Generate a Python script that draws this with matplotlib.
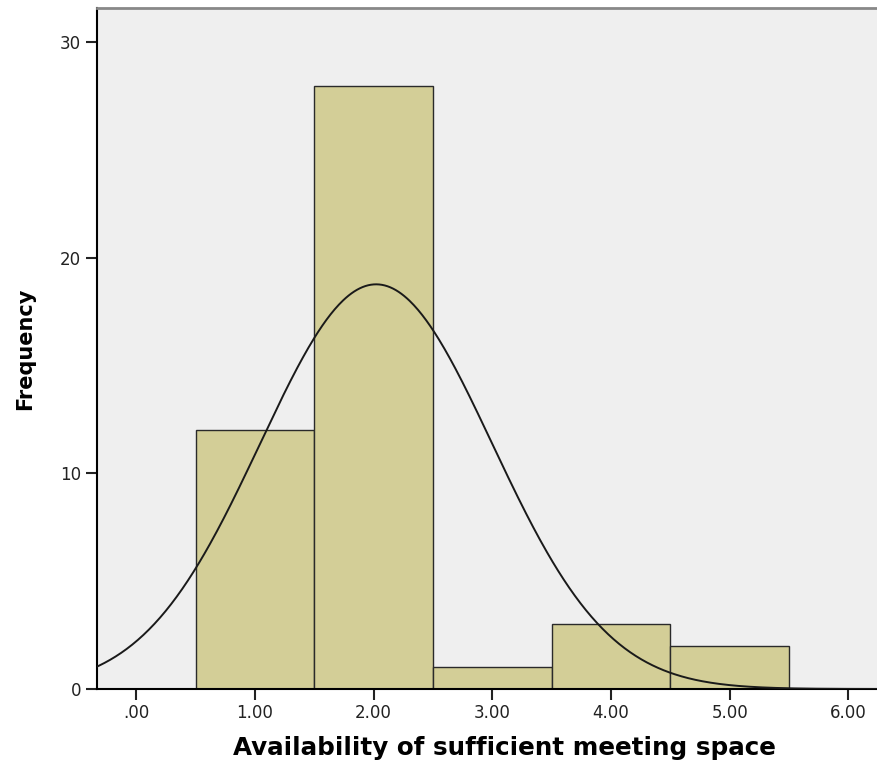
import numpy as np
import matplotlib
matplotlib.use("Agg")
import matplotlib.pyplot as plt

# category values and frequencies
values = [1, 2, 3, 4, 5]
counts = [12, 28, 1, 3, 2]
xticks = [0, 1, 2, 3, 4, 5, 6]
xticklabels = [".00", "1.00", "2.00", "3.00", "4.00", "5.00", "6.00"]
yticks = [0, 10, 20, 30]

plt.rcParams['font.family'] = ['DejaVu Sans']

fig = plt.figure(figsize=(8.78, 7.65), dpi=100)
ax = fig.add_axes([97/878, 76/765, 1 - 97/878, (689 - 8)/765])
ax.set_facecolor('#efefef')

ax.bar(values, counts, width=1.0, color='#d3ce97', edgecolor='#2a2a2a', linewidth=1.0, zorder=2)

# normal curve fitted to the data
v = np.array(values, dtype=float)
c = np.array(counts, dtype=float)
n = c.sum()
mu = (v * c).sum() / n
sd = np.sqrt(((v - mu) ** 2 * c).sum() / (n - 1))
xs = np.linspace(-0.5, 6.5, 600)
ys = n * 1.0 / (sd * np.sqrt(2 * np.pi)) * np.exp(-0.5 * ((xs - mu) / sd) ** 2)
ax.plot(xs, ys, color='#1a1a1a', linewidth=1.4, zorder=3)

ax.set_xlim(-0.33, 6.25)
ax.set_ylim(0, 31.6)
ax.set_xticks(xticks)
ax.set_xticklabels(xticklabels)
ax.set_yticks(yticks)
ax.tick_params(axis='both', direction='out', length=8, width=1.5, labelsize=12, colors='#222222')
ax.tick_params(axis='x', pad=3)

ax.spines['right'].set_visible(False)
ax.spines['top'].set_color('#888888')
ax.spines['top'].set_linewidth(2)
ax.spines['left'].set_linewidth(1.5)
ax.spines['bottom'].set_linewidth(1.5)

fig.text(504/878, 1 - 748/765, 'Availability of sufficient meeting space', fontsize=17.7,
         fontweight='bold', ha='center', va='center')
ax.set_ylabel('Frequency', fontsize=15, fontweight='bold', labelpad=18)

fig.savefig('out.png', dpi=100)
